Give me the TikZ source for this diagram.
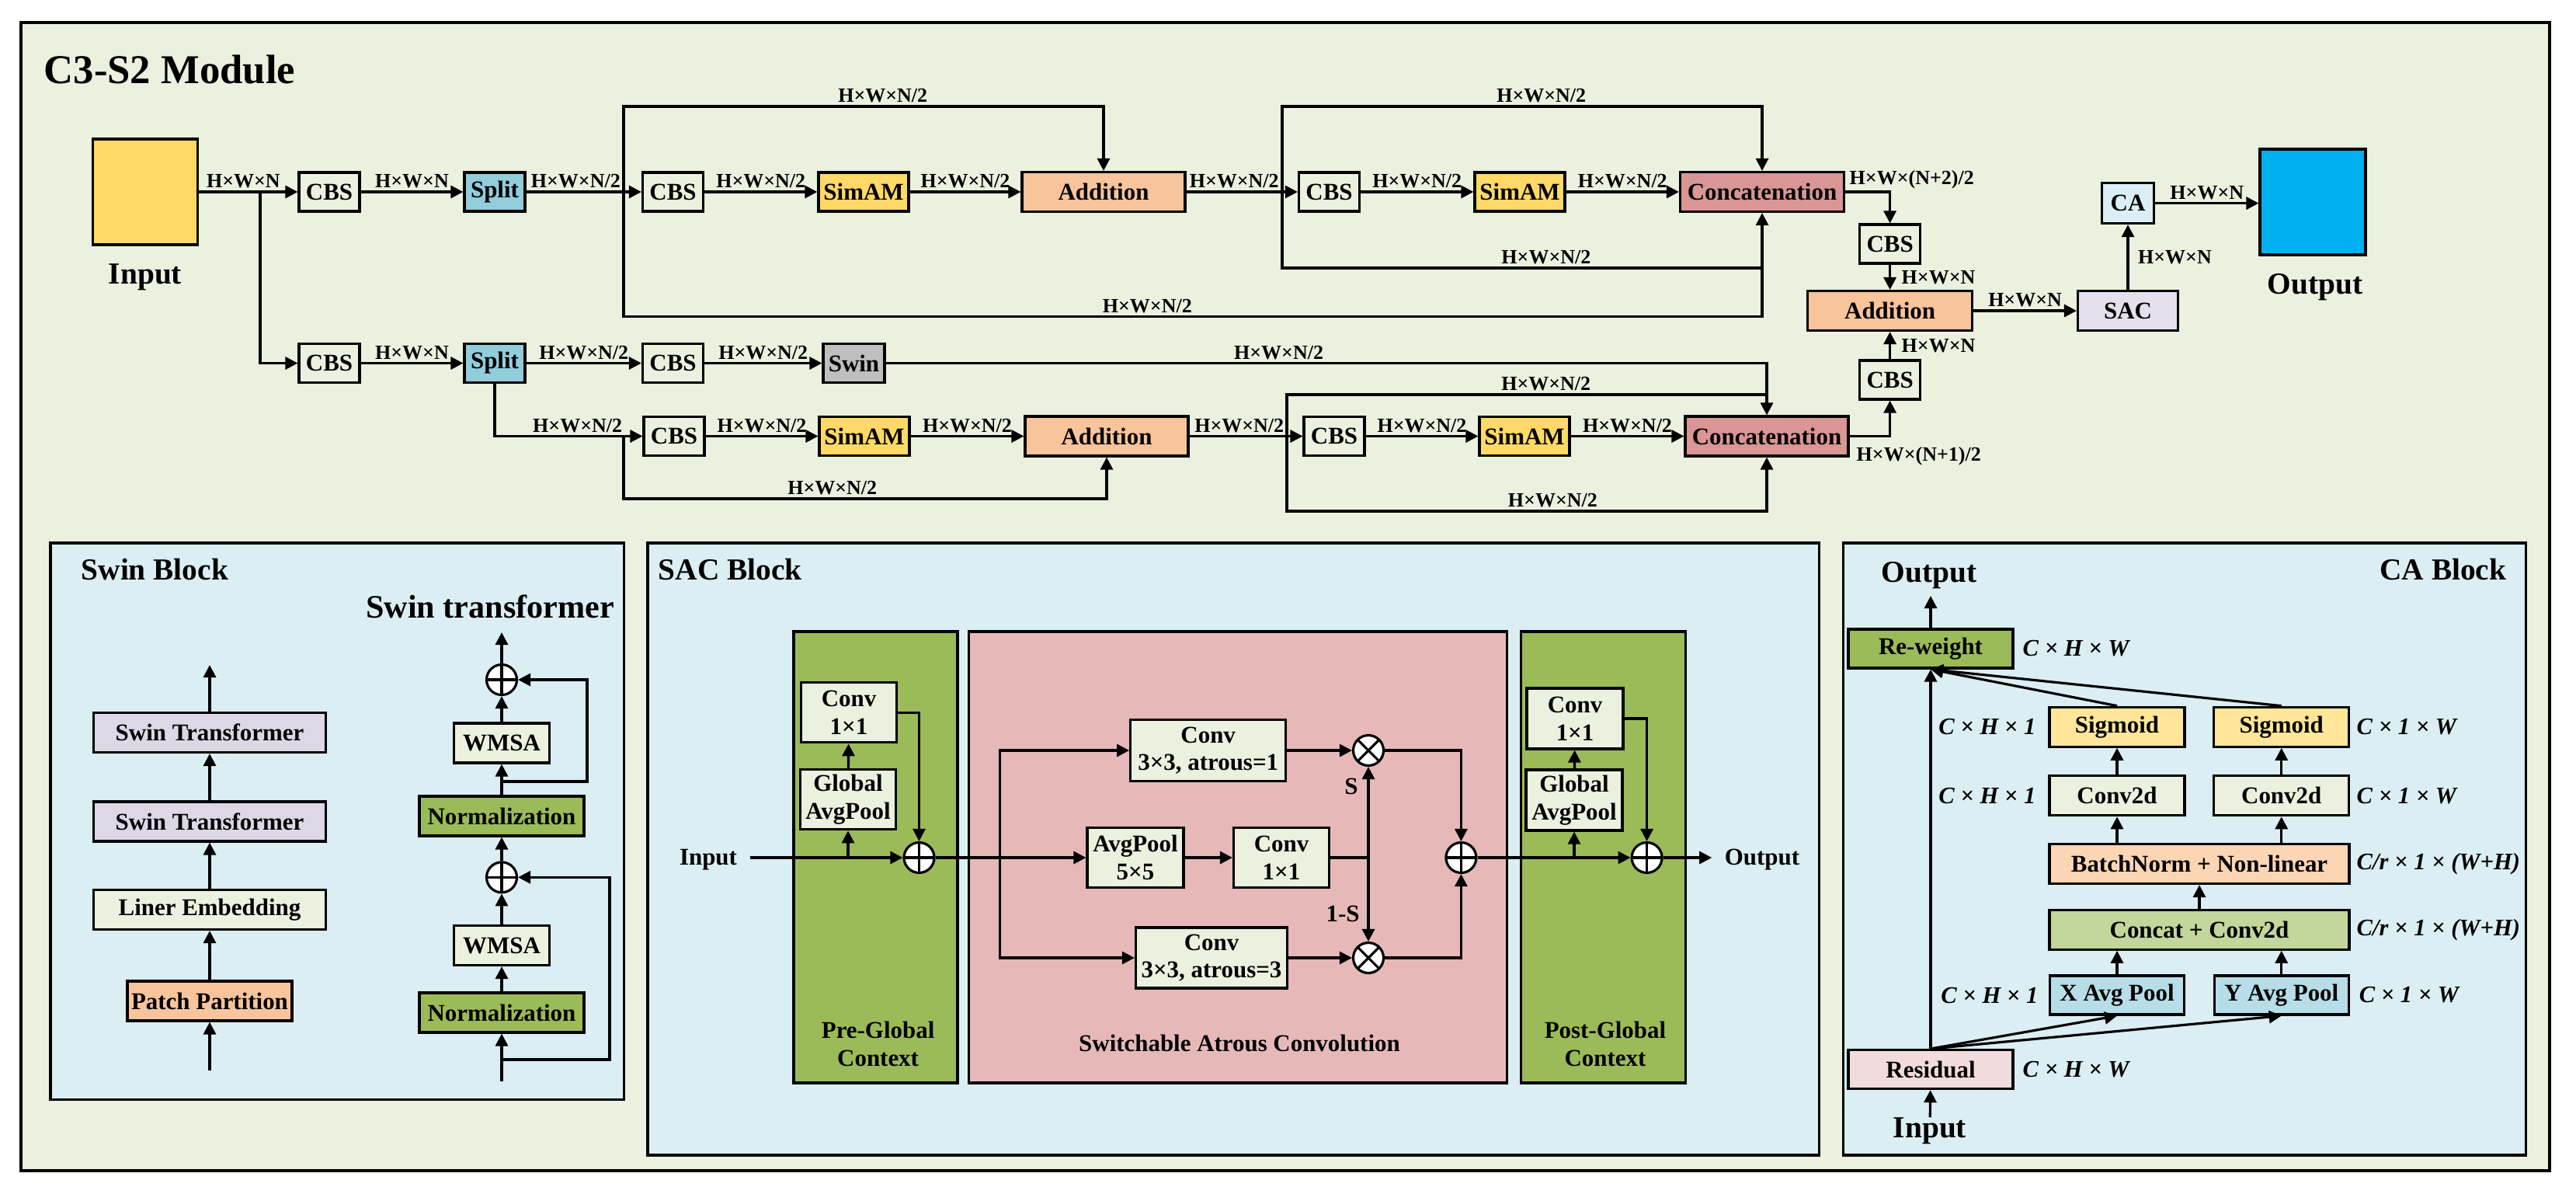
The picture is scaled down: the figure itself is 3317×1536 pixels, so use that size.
\documentclass[tikz,border=0pt]{standalone}
\usepackage{fontspec}
\setmainfont{Liberation Serif}
\usetikzlibrary{arrows.meta}
\definecolor{bggreen}{HTML}{EBF1DE}
\definecolor{bgblue}{HTML}{DBEEF3}
\definecolor{inyellow}{HTML}{FFD966}
\definecolor{splitblue}{HTML}{92CDDC}
\definecolor{peach}{HTML}{F8C49B}
\definecolor{rose}{HTML}{D99694}
\definecolor{lavender}{HTML}{E6E0EC}
\definecolor{outblue}{HTML}{00B0F0}
\definecolor{swingray}{HTML}{BFBFBF}
\definecolor{stlav}{HTML}{DDD7E6}
\definecolor{normgreen}{HTML}{9BBB59}
\definecolor{sacpink}{HTML}{E6B9B8}
\definecolor{sigyellow}{HTML}{FFE699}
\definecolor{bnpeach}{HTML}{FCD5B5}
\definecolor{ccgreen}{HTML}{C3D69B}
\definecolor{poolblue}{HTML}{B7DEE8}
\definecolor{respink}{HTML}{F2DCDB}
\tikzset{
  bx/.style={font=\bfseries\fontsize{8.8}{10.1}\selectfont, inner sep=0pt, align=center},
  blk/.style={bx, draw, line width=0.9pt},
  hd/.style={font=\bfseries\fontsize{15}{18}\selectfont, inner sep=0pt},
  sub/.style={font=\bfseries\fontsize{11.2}{13}\selectfont, inner sep=0pt},
  dimlbl/.style={font=\bfseries\fontsize{7.4}{8}\selectfont, inner sep=1pt},
  calbl/.style={font=\bfseries\itshape\fontsize{8.7}{10}\selectfont, inner sep=0pt},
  arr/.style={line width=0.9pt, -{Triangle[length=1.6mm,width=1.6mm]}},
  ln/.style={line width=0.9pt},
  frm/.style={line width=0.9pt, fill=bgblue},
  ctx/.style={draw, line width=0.9pt, inner sep=0pt},
  cbsbox/.style={blk, fill=bggreen, minimum width=7.8mm, minimum height=5mm},
  splitbox/.style={blk, fill=splitblue, minimum width=7.8mm, minimum height=5mm},
  simbox/.style={blk, fill=inyellow, minimum width=11.6mm, minimum height=5mm},
  addbox/.style={blk, fill=peach, minimum width=21mm, minimum height=5.1mm},
  catbox/.style={blk, fill=rose, minimum width=21.1mm, minimum height=5.1mm},
  swinbox/.style={blk, fill=swingray, minimum width=7.9mm, minimum height=5mm},
  tallbox/.style={draw, line width=0.9pt, minimum width=13.5mm, minimum height=13.6mm},
  sacbox/.style={blk, fill=bggreen, minimum width=12.4mm, minimum height=7.8mm},
  cabox/.style={blk, minimum width=17.4mm, minimum height=5.1mm},
  oplus/.style={circle, draw, line width=0.9pt, fill=white, minimum size=3.9mm, inner sep=0pt,
    path picture={\draw[line width=0.9pt] (path picture bounding box.north) -- (path picture bounding box.south)
      (path picture bounding box.west) -- (path picture bounding box.east);}},
  otimes/.style={circle, draw, line width=0.9pt, fill=white, minimum size=3.9mm, inner sep=0pt,
    path picture={\draw[line width=0.9pt] (path picture bounding box.north west) -- (path picture bounding box.south east)
      (path picture bounding box.north east) -- (path picture bounding box.south west);}}
}
\begin{document}
\begin{tikzpicture}[x=0.1mm, y=-0.1mm]
\useasboundingbox (0,0) rectangle (3317,1536);
%% frames
\draw[line width=1.1pt, fill=bggreen] (27,29) rectangle (3283,1507);
\draw[frm] (65,699) rectangle (803.6,1415.3);
\draw[frm] (834,699) rectangle (2342.5,1487);
\draw[frm] (2373.4,699) rectangle (3252.3,1487);

%% C3-S2 module, boxes
  \node[hd, anchor=west] (ttl) at (56,90) {C3-S2 Module};
  \node[tallbox, fill=inyellow] (inp) at (187,247) {};
  \node[sub] (inptxt) at (187,357) {Input};
  \node[cbsbox] (cbsA) at (424,247) {CBS};
  \node[splitbox] (splA) at (637,247) {Split};
  \node[cbsbox] (cbsB) at (866.5,247) {CBS};
  \node[simbox] (simA) at (1112,247) {SimAM};
  \node[addbox] (addA) at (1421,247) {Addition};
  \node[cbsbox] (cbsC) at (1711.5,247) {CBS};
  \node[simbox] (simB) at (1957,247) {SimAM};
  \node[catbox] (catA) at (2269,247) {Concatenation};
  \node[cbsbox] (cbsD) at (2433.6,314) {CBS};
  \node[addbox, minimum width=21.2mm] (addC) at (2433.6,400) {Addition};
  \node[blk, fill=lavender, minimum width=12.9mm, minimum height=5.1mm] (sac) at (2740,400) {SAC};
  \node[blk, fill=bgblue, minimum width=6.7mm, minimum height=5.2mm] (ca) at (2740,261.6) {CA};
  \node[tallbox, fill=outblue, minimum width=13.6mm] (outb) at (2978,260) {};
  \node[sub] (outtxt) at (2981,370) {Output};
  \node[cbsbox] (cbsE) at (2433.6,489) {CBS};
  \node[catbox, minimum width=21mm] (catB) at (2275,561.5) {Concatenation};
  \node[cbsbox] (cbsF) at (424,467.5) {CBS};
  \node[splitbox] (splB) at (637,467.5) {Split};
  \node[cbsbox] (cbsG) at (866.5,467.5) {CBS};
  \node[swinbox] (swin) at (1099.5,467.5) {Swin};
  \node[cbsbox] (cbsH) at (868,561.5) {CBS};
  \node[simbox] (simC) at (1113,561.5) {SimAM};
  \node[addbox] (addB) at (1425,561.5) {Addition};
  \node[cbsbox] (cbsI) at (1718,561.5) {CBS};
  \node[simbox] (simD) at (1963,561.5) {SimAM};
%% C3-S2 module, upper branch
  \draw[arr] (inp) -- node[dimlbl, above, pos=0.45] (d1) {H×W×N} (cbsA);
  \coordinate (brA) at (335,247);
  \draw[arr] (brA) |- (cbsF);
  \draw[arr] (cbsA) -- node[dimlbl, above] (d2) {H×W×N} (splA);
  \draw[arr] (splA) -- node[dimlbl, above, pos=0.43] (d3) {H×W×N/2} (cbsB);
  \coordinate (lpA) at (803,247);
  \draw[arr] (lpA) -- (803,137) -| node[dimlbl, above, pos=0.27] (d4) {H×W×N/2} (addA);
  \draw[arr] (lpA) |- node[dimlbl, above, pos=0.73] (d5) {H×W×N/2} (2269,407.6) -- (catA);
  \draw[arr] (cbsB) -- node[dimlbl, above] (d6) {H×W×N/2} (simA);
  \draw[arr] (simA) -- node[dimlbl, above] (d7) {H×W×N/2} (addA);
  \draw[arr] (addA) -- node[dimlbl, above, pos=0.43] (d8) {H×W×N/2} (cbsC);
  \coordinate (lpB) at (1651,247);
  \draw[arr] (lpB) -- (1651,137) -| node[dimlbl, above, pos=0.27] (d9) {H×W×N/2} (catA);
  \draw[ln] (lpB) |- node[dimlbl, above, pos=0.775] (d10) {H×W×N/2} (2269,345);
  \draw[arr] (cbsC) -- node[dimlbl, above] (d11) {H×W×N/2} (simB);
  \draw[arr] (simB) -- node[dimlbl, above] (d12) {H×W×N/2} (catA);
%% C3-S2 module, right column
  \draw[arr] (catA) -| (cbsD);
  \node[dimlbl, anchor=west, inner sep=0pt] (d13) at (2381,231) {H×W×(N+2)/2};
  \draw[arr] (cbsD) -- node[dimlbl, right, xshift=1mm] (d14) {H×W×N} (addC);
  \draw[arr] (cbsE) -- node[dimlbl, right, xshift=1mm] (d15) {H×W×N} (addC);
  \draw[arr] (catB) -| (cbsE);
  \node[dimlbl, anchor=west, inner sep=0pt] (d16) at (2390,587) {H×W×(N+1)/2};
  \draw[arr] (addC) -- node[dimlbl, above] (d17) {H×W×N} (sac);
  \draw[arr] (sac) -- node[dimlbl, right, xshift=0.8mm] (d18) {H×W×N} (ca);
  \draw[arr] (ca) -- node[dimlbl, above] (d19) {H×W×N} (ca -| outb.west);
%% C3-S2 module, lower branch
  \draw[arr] (cbsF) -- node[dimlbl, above] (d20) {H×W×N} (splB);
  \draw[arr] (splB) -- node[dimlbl, above] (d21) {H×W×N/2} (cbsG);
  \draw[arr] (cbsG) -- node[dimlbl, above] (d22) {H×W×N/2} (swin);
  \draw[arr] (swin) -| node[dimlbl, above, pos=0.223] (d23) {H×W×N/2} (catB);
  \draw[arr] (splB) |- node[dimlbl, above, pos=0.78] (d24) {H×W×N/2} (cbsH);
  \coordinate (lpC) at (803,561.5);
  \draw[arr] (lpC) |- node[dimlbl, above, pos=0.716] (d25) {H×W×N/2} (1425,642) -- (addB);
  \draw[arr] (cbsH) -- node[dimlbl, above] (d26) {H×W×N/2} (simC);
  \draw[arr] (simC) -- node[dimlbl, above] (d27) {H×W×N/2} (addB);
  \draw[arr] (addB) -- node[dimlbl, above, pos=0.44] (d28) {H×W×N/2} (cbsI);
  \coordinate (lpD) at (1657,561.5);
  \draw[ln] (lpD) |- node[dimlbl, above, pos=0.77] (d29) {H×W×N/2} (2275,508);
  \draw[arr] (lpD) |- node[dimlbl, above, pos=0.777] (d30) {H×W×N/2} (2275,658) -- (catB);
  \draw[arr] (cbsI) -- node[dimlbl, above] (d31) {H×W×N/2} (simD);
  \draw[arr] (simD) -- node[dimlbl, above] (d32) {H×W×N/2} (catB);

%% Swin block
  \node[sub, anchor=west] (swt) at (104,733) {Swin Block};
  \node[font=\bfseries\fontsize{12}{14}\selectfont, inner sep=0pt] (swtr) at (631,781) {Swin transformer};
  \node[blk, fill=stlav, minimum width=29.9mm, minimum height=5.1mm] (stA) at (270,943) {Swin Transformer};
  \node[blk, fill=stlav, minimum width=29.9mm, minimum height=5.1mm] (stB) at (270,1057.5) {Swin Transformer};
  \node[blk, fill=bggreen, minimum width=29.9mm, minimum height=5.1mm] (lemb) at (270,1171) {Liner Embedding};
  \node[blk, fill=peach, minimum width=21.2mm, minimum height=5.1mm] (pp) at (270,1288.5) {Patch Partition};
  \coordinate (ppin) at (270,1378);
  \coordinate (stout) at (270,856);
  \draw[arr] (ppin) -- (pp);
  \draw[arr] (pp) -- (lemb);
  \draw[arr] (lemb) -- (stB);
  \draw[arr] (stB) -- (stA);
  \draw[arr] (stA) -- (stout);
  \node[oplus] (plA) at (646,875) {};
  \node[blk, fill=bggreen, minimum width=12.3mm, minimum height=5.1mm] (wmA) at (646,956.5) {WMSA};
  \node[blk, fill=normgreen, minimum width=21.2mm, minimum height=5.1mm] (nmA) at (646,1050.4) {Normalization};
  \node[oplus] (plB) at (646,1129.3) {};
  \node[blk, fill=bggreen, minimum width=12.3mm, minimum height=5.1mm] (wmB) at (646,1217) {WMSA};
  \node[blk, fill=normgreen, minimum width=21.2mm, minimum height=5.1mm] (nmB) at (646,1303.5) {Normalization};
  \coordinate (trin) at (646,1392);
  \coordinate (trout) at (646,814);
  \draw[arr] (trin) -- (nmB);
  \draw[arr] (nmB) -- (wmB);
  \draw[arr] (wmB) -- (plB);
  \draw[arr] (plB) -- (nmA);
  \draw[arr] (nmA) -- (wmA);
  \draw[arr] (wmA) -- (plA);
  \draw[arr] (plA) -- (trout);
  \coordinate (skA) at (646,1364);
  \draw[arr] (skA) -- (785,1364) |- (plB);
  \coordinate (skB) at (646,1006);
  \draw[arr] (skB) -- (756,1006) |- (plA);

%% SAC block
  \node[sub, anchor=west] (sact) at (847,733) {SAC Block};
  \node[ctx, fill=normgreen, minimum width=21.1mm, minimum height=58.1mm] (preg) at (1127.5,1103.4) {};
  \node[ctx, fill=sacpink, minimum width=69.3mm, minimum height=58.1mm] (swac) at (1594,1103.4) {};
  \node[ctx, fill=normgreen, minimum width=21.2mm, minimum height=58.1mm] (postg) at (2064.3,1103.4) {};
  \node[bx] (pregt) at (1130.6,1343.7) {Pre-Global\\Context};
  \node[bx] (swact) at (1596,1343) {Switchable Atrous Convolution};
  \node[bx] (postgt) at (2067,1343.7) {Post-Global\\Context};
  \node[bx] (sinp) at (912,1107) {Input};
  \node[sacbox, minimum width=12.3mm, minimum height=7.7mm] (cvA) at (1093,917.3) {Conv\\1×1};
  \node[sacbox, minimum width=12.3mm, minimum height=7.7mm] (gpA) at (1092,1029.3) {Global\\AvgPool};
  \node[oplus] (plC) at (1183.5,1104) {};
  \draw[arr] ([xshift=1.6mm]sinp.east |- plC) -- (plC);
  \coordinate (brC) at (1092,1104);
  \draw[arr] (brC) -- (gpA);
  \draw[arr] (gpA) -- (cvA);
  \draw[arr] (cvA) -| (plC);
  \node[sacbox, minimum width=20mm, minimum height=7.9mm] (c3A) at (1555.7,966) {Conv\\3×3, atrous=1};
  \node[sacbox, minimum height=7.75mm] (apA) at (1462,1104) {AvgPool\\5×5};
  \node[sacbox, minimum width=12.3mm, minimum height=7.75mm] (c1B) at (1650,1104) {Conv\\1×1};
  \node[sacbox, minimum width=19.5mm] (c3B) at (1560,1233) {Conv\\3×3, atrous=3};
  \node[otimes] (mlA) at (1762,966) {};
  \node[otimes] (mlB) at (1762,1233) {};
  \node[oplus] (plD) at (1881.4,1104) {};
  \draw[arr] (plC) -- (apA);
  \coordinate (brD) at (1287.5,1104);
  \draw[arr] (brD) |- (c3A);
  \draw[arr] (brD) |- (c3B);
  \draw[arr] (apA) -- (c1B);
  \draw[arr] (c3A) -- (mlA);
  \draw[arr] (c3B) -- (mlB);
  \coordinate (jnS) at (1762,1104);
  \draw[ln] (c1B) -- (jnS);
  \draw[arr] (jnS) -- (mlA);
  \draw[arr] (jnS) -- (mlB);
  \node[bx] (sS) at (1740,1012) {S};
  \node[bx] (sT) at (1729,1176) {1-S};
  \draw[arr] (mlA) -| (plD);
  \draw[arr] (mlB) -| (plD);
  \node[sacbox] (cvB) at (2028,925) {Conv\\1×1};
  \node[sacbox] (gpB) at (2027,1030) {Global\\AvgPool};
  \node[oplus] (plE) at (2120.6,1104) {};
  \draw[arr] (plD) -- (plE);
  \coordinate (brE) at (2027,1104);
  \draw[arr] (brE) -- (gpB);
  \draw[arr] (gpB) -- (cvB);
  \draw[arr] (cvB) -| (plE);
  \node[bx] (soutt) at (2269,1107) {Output};
  \draw[arr] (plE) -- ([xshift=-1.6mm]soutt.west |- plE);

%% CA block
  \node[sub, anchor=east] (cat) at (3228,733) {CA Block};
  \node[sub] (caot) at (2484,741) {Output};
  \node[cabox, fill=normgreen, minimum width=21.2mm, minimum height=5mm] (rw) at (2486,835) {Re-weight};
  \coordinate (caout) at (2486,767);
  \node[cabox, fill=sigyellow] (sgA) at (2726,935.7) {Sigmoid};
  \node[cabox, fill=sigyellow] (sgB) at (2937.7,935.7) {Sigmoid};
  \node[cabox, fill=bggreen] (cdA) at (2726,1024.2) {Conv2d};
  \node[cabox, fill=bggreen] (cdB) at (2937.7,1024.2) {Conv2d};
  \node[cabox, fill=bnpeach, minimum width=38.6mm] (bn) at (2832,1112) {BatchNorm + Non-linear};
  \node[cabox, fill=ccgreen, minimum width=38.6mm] (cc) at (2832,1196.7) {Concat + Conv2d};
  \node[cabox, fill=poolblue, minimum width=17.3mm, minimum height=5mm] (xp) at (2726,1281) {X Avg Pool};
  \node[cabox, fill=poolblue, minimum width=17.3mm, minimum height=5mm] (yp) at (2937.7,1281) {Y Avg Pool};
  \node[cabox, fill=respink, minimum width=21.2mm, minimum height=5mm] (res) at (2486,1376.6) {Residual};
  \node[sub] (cait) at (2485,1456) {Input};
  \draw[arr] (rw) -- (caout);
  \draw[arr] (cait) -- (res);
  \draw[arr] (res) -- (rw);
  \draw[arr] (res.north) -- (xp.south);
  \draw[arr] (res.north) -- (yp.south);
  \draw[arr] (xp) -- (xp.north |- cc.south);
  \draw[arr] (yp) -- (yp.north |- cc.south);
  \draw[arr] (cc) -- (bn);
  \draw[arr] (cdA.south |- bn.north) -- (cdA);
  \draw[arr] (cdB.south |- bn.north) -- (cdB);
  \draw[arr] (cdA) -- (sgA);
  \draw[arr] (cdB) -- (sgB);
  \draw[arr] (sgA.north) -- (rw.south);
  \draw[arr] (sgB.north) -- (rw.south);
  \node[calbl, anchor=west] (c1) at (2604,835) {C × H × W};
  \node[calbl, anchor=east] (c2) at (2622,935.7) {C × H × 1};
  \node[calbl, anchor=east] (c3) at (2622,1024.2) {C × H × 1};
  \node[calbl, anchor=east] (c4) at (2625,1281) {C × H × 1};
  \node[calbl, anchor=west] (c5) at (3034,935.7) {C × 1 × W};
  \node[calbl, anchor=west] (c6) at (3034,1024.2) {C × 1 × W};
  \node[calbl, anchor=west] (c7) at (3037,1281) {C × 1 × W};
  \node[calbl, anchor=west] (c8) at (3034,1112) {C/r × 1 × (W+H)};
  \node[calbl, anchor=west] (c9) at (3034,1196.7) {C/r × 1 × (W+H)};
  \node[calbl, anchor=west] (c10) at (2604,1376.6) {C × H × W};
\end{tikzpicture}
\end{document}
